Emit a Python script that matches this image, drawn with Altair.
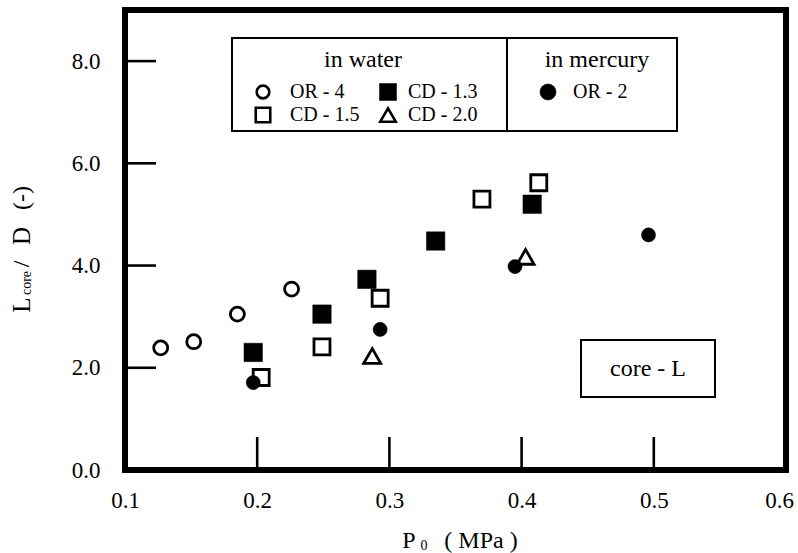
import altair as alt
import pandas as pd

FONT = "Liberation Serif"

# Core length L_core/D against injection pressure P0 (MPa)
or4_p = [0.127, 0.152, 0.185, 0.226]
or4_l = [2.39, 2.51, 3.05, 3.54]
cd13_p = [0.197, 0.249, 0.283, 0.335, 0.408]
cd13_l = [2.30, 3.05, 3.73, 4.48, 5.20]
cd15_p = [0.203, 0.249, 0.293, 0.370, 0.413]
cd15_l = [1.81, 2.41, 3.36, 5.30, 5.62]
cd20_p = [0.287, 0.403]
cd20_l = [2.23, 4.17]
or2_p = [0.197, 0.293, 0.395, 0.496]
or2_l = [1.71, 2.75, 3.98, 4.60]

x_labels = [0.1, 0.2, 0.3, 0.4, 0.5, 0.6]
y_labels = [0.0, 2.0, 4.0, 6.0, 8.0]
x_inner_ticks = [0.2, 0.3, 0.4, 0.5]
y_inner_ticks = [2.0, 4.0, 6.0, 8.0]

W, H = 661, 460

xs = alt.Scale(domain=[0.1, 0.6], nice=False, zero=False)
ys = alt.Scale(domain=[0, 9], nice=False, zero=True)
xaxis = alt.Axis(values=x_labels, format=".1f", title=None, ticks=False, domain=False,
                 grid=False, labelFont=FONT, labelFontSize=23, labelColor="black",
                 labelPadding=19, labelFlush=False,
                 labelOffset=alt.condition("datum.value >= 0.59", alt.value(-7), alt.value(0)))
yaxis = alt.Axis(values=y_labels, format=".1f", title=None, ticks=False, domain=False,
                 grid=False, labelFont=FONT, labelFontSize=23, labelColor="black",
                 labelPadding=25, labelFlush=False)


def X(f):
    return alt.X(f"{f}:Q", scale=xs, axis=xaxis)


def Y(f):
    return alt.Y(f"{f}:Q", scale=ys, axis=yaxis)


def series(p, l, shape, size, filled):
    df = pd.DataFrame({"p": p, "l": l})
    if filled:
        m = alt.Chart(df).mark_point(shape=shape, size=size, filled=True,
                                     fill="black", stroke="black", strokeWidth=0.5, opacity=1)
    else:
        m = alt.Chart(df).mark_point(shape=shape, size=size, filled=False,
                                     stroke="black", strokeWidth=2.8, opacity=1)
    return m.encode(x=X("p"), y=Y("l"))


pts = [
    series(or4_p, or4_l, "circle", 196, False),
    series(cd13_p, cd13_l, "square", 340, True),
    series(cd15_p, cd15_l, "square", 256, False),
    series(cd20_p, cd20_l, "triangle-up", 289, False),
    series(or2_p, or2_l, "circle", 200, True),
]

# inward tick marks
xt = alt.Chart(pd.DataFrame({"v": x_inner_ticks})).mark_rule(color="black", strokeWidth=2.6).encode(
    x=X("v"), y=alt.value(H), y2=alt.value(H - 33))
yt = alt.Chart(pd.DataFrame({"v": y_inner_ticks})).mark_rule(color="black", strokeWidth=2.6).encode(
    y=Y("v"), x=alt.value(0), x2=alt.value(31))

one = pd.DataFrame({"a": [0]})


def box(x1, x2, y1, y2, sw=2):
    return alt.Chart(one).mark_rect(fill="white", stroke="black", strokeWidth=sw).encode(
        x=alt.value(x1), x2=alt.value(x2), y=alt.value(y1), y2=alt.value(y2))


def txt(s, x, y, size, align="center", angle=0, baseline="middle"):
    return alt.Chart(one).mark_text(text=s, font=FONT, fontSize=size, align=align,
                                    baseline=baseline, angle=angle, color="black").encode(
        x=alt.value(x), y=alt.value(y))


def sym(x, y, shape, size, filled):
    if filled:
        m = alt.Chart(one).mark_point(shape=shape, size=size, filled=True, fill="black",
                                      stroke="black", strokeWidth=0.5, opacity=1)
    else:
        m = alt.Chart(one).mark_point(shape=shape, size=size, filled=False, stroke="black",
                                      strokeWidth=2.6, opacity=1)
    return m.encode(x=alt.value(x), y=alt.value(y))


legend = [
    box(107, 552, 28, 121),
    alt.Chart(one).mark_rule(color="black", strokeWidth=2).encode(
        x=alt.value(382), y=alt.value(28), y2=alt.value(121)),
    txt("in water", 238, 50, 24),
    txt("in mercury", 472, 50, 24),
    sym(138, 82, "circle", 160, False),
    txt("OR - 4", 165, 82, 20, align="left"),
    sym(263, 82, "square", 290, True),
    txt("CD - 1.3", 283, 82, 20, align="left"),
    sym(138, 105, "square", 210, False),
    txt("CD - 1.5", 165, 105, 20, align="left"),
    sym(263, 105, "triangle-up", 240, False),
    txt("CD - 2.0", 283, 105, 20, align="left"),
    sym(423, 82, "circle", 260, True),
    txt("OR - 2", 448, 82, 20, align="left"),
    box(456, 590, 330, 387),
    txt("core - L", 523, 359, 24),
]

# axis titles: L_core / D (-) along the left, P0 ( MPa ) underneath
titles = [
    txt("L", -103, 295, 25, angle=270),
    txt("core", -98, 273, 14, angle=270),
    txt("/", -103, 254, 24, angle=270),
    txt("D", -103, 226, 25, angle=270),
    txt("(-)", -103, 188, 24, angle=270),
    txt("P", 284, 531, 24),
    txt("0", 299, 536, 14),
    txt("( MPa )", 356, 531, 24),
]

chart = alt.layer(*pts, xt, yt, *legend, *titles).properties(
    width=W, height=H,
    autosize=alt.AutoSizeParams(type="none"),
    padding={"left": 125, "top": 10, "right": 12, "bottom": 83},
    background="white",
).configure_view(stroke="black", strokeWidth=6)

chart.save("out.html", embed_options={"renderer": "svg", "actions": False})
